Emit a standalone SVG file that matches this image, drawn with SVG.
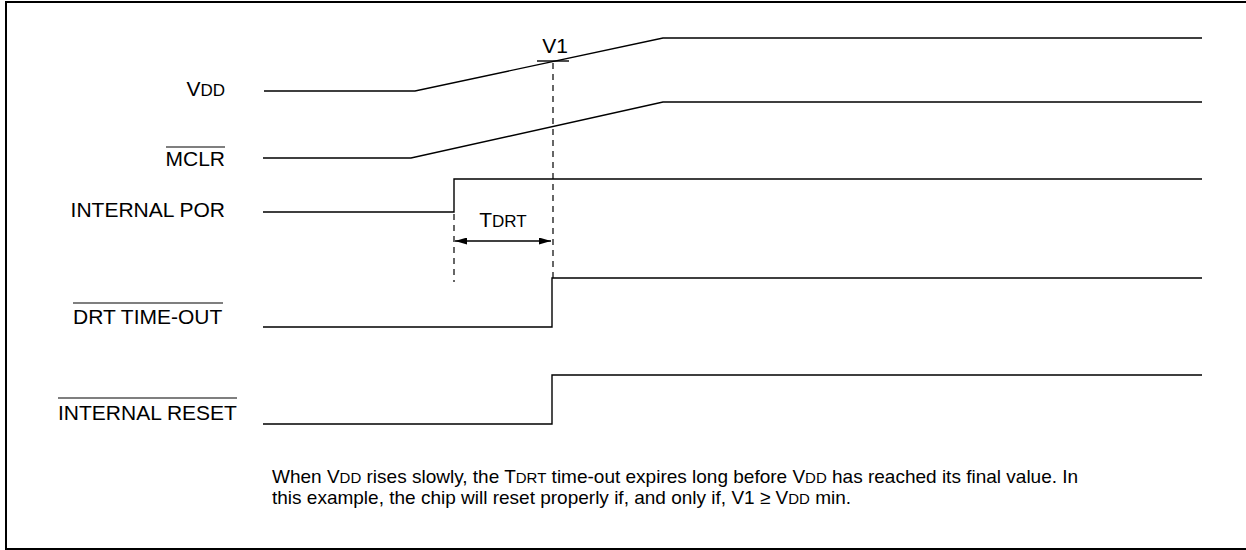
<svg xmlns="http://www.w3.org/2000/svg" width="1246" height="550" viewBox="0 0 1246 550">
<style>
.sig{fill:none;stroke:#000;stroke-width:1.4}
.dash{fill:none;stroke:#000;stroke-width:1.2;stroke-dasharray:6,5}
.lbl{font-family:"Liberation Sans",Arial,sans-serif;font-size:21px;fill:#000}
.sm{font-size:17px}
.note{font-family:"Liberation Sans",Arial,sans-serif;font-size:19px;fill:#000}
.nsm{font-size:15px}
.ov{stroke:#000;stroke-width:1.2}
</style>
<defs>
<marker id="ah" viewBox="0 0 12 7" refX="12" refY="3.5" markerWidth="12" markerHeight="7" markerUnits="userSpaceOnUse" orient="auto-start-reverse">
<path d="M0,0 L12,3.5 L0,7 Z" fill="#000"/>
</marker>
</defs>
<rect x="6" y="2" width="1260" height="547" fill="#fff" stroke="#000" stroke-width="2"/>
<g id="vdd">
<text class="lbl" x="225" y="96" text-anchor="end">V<tspan class="sm">DD</tspan></text>
<polyline class="sig" points="264,91 415,91 663,38 1202,38"/>
</g>
<g id="mclr">
<text class="lbl" x="225" y="166" text-anchor="end">MCLR</text>
<line class="ov" x1="166" y1="147" x2="225" y2="147"/>
<polyline class="sig" points="263,158 411,158 663,102 1202,102"/>
</g>
<g id="por">
<text class="lbl" x="225" y="217" text-anchor="end">INTERNAL POR</text>
<polyline class="sig" points="263,212 454,212 454,179 1202,179"/>
</g>
<g id="drt">
<text class="lbl" x="73" y="324">DRT TIME-OUT</text>
<line class="ov" x1="73" y1="303" x2="223" y2="303"/>
<polyline class="sig" points="263,327 552,327 552,278 1202,278"/>
</g>
<g id="reset">
<text class="lbl" x="58" y="420">INTERNAL RESET</text>
<line class="ov" x1="58" y1="398" x2="237" y2="398"/>
<polyline class="sig" points="263,424 552,424 552,375 1202,375"/>
</g>
<g id="v1">
<text class="lbl" x="555" y="53" text-anchor="middle">V1</text>
<line class="sig" x1="537" y1="61" x2="569" y2="61"/>
</g>
<g id="tdrt">
<text class="lbl" x="503" y="227" text-anchor="middle">T<tspan class="sm">DRT</tspan></text>
</g>
<g id="connectors">
<line class="dash" x1="553" y1="63" x2="553" y2="278"/>
<line class="dash" x1="454" y1="214" x2="454" y2="282"/>
<line class="sig" x1="455" y1="241" x2="551" y2="241" marker-start="url(#ah)" marker-end="url(#ah)"/>
</g>
<g id="note">
<text class="note" x="272" y="483">When V<tspan class="nsm">DD</tspan> rises slowly, the T<tspan class="nsm">DRT</tspan> time-out expires long before V<tspan class="nsm">DD</tspan> has reached its final value. In</text>
<text class="note" x="272" y="504">this example, the chip will reset properly if, and only if, V1 ≥ V<tspan class="nsm">DD</tspan> min.</text>
</g>
</svg>
